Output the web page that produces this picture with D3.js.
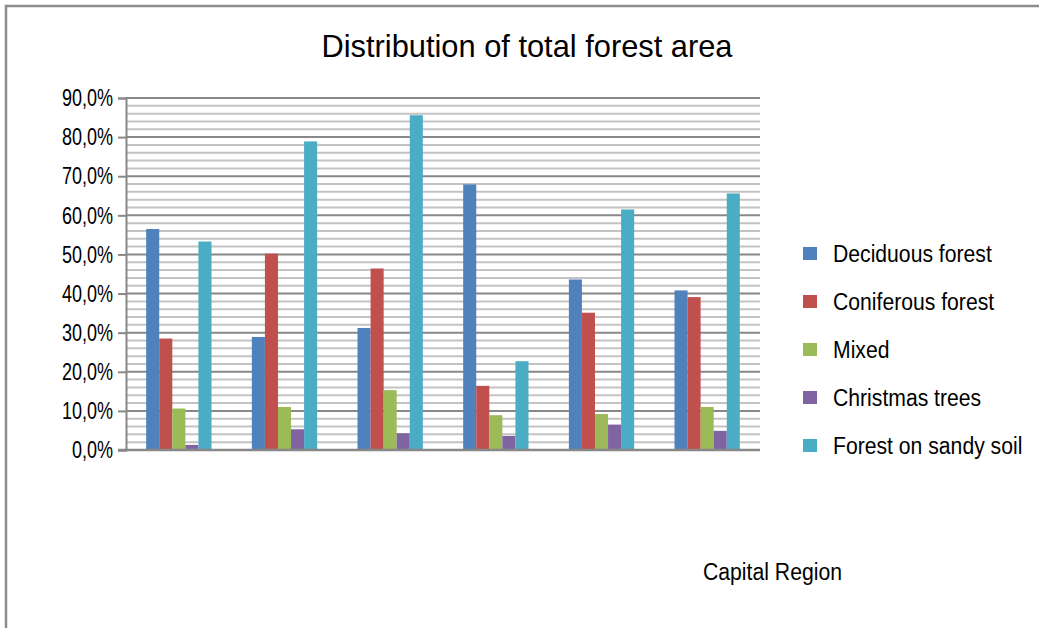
<!DOCTYPE html>
<html>
<head>
<meta charset="utf-8">
<script src="https://cdn.jsdelivr.net/npm/d3@7"></script>
<style>
  html, body { margin: 0; padding: 0; background: #fff; }
  svg { display: block; }
  text { font-family: "Liberation Sans", Arial, sans-serif; fill: #000; }
</style>
</head>
<body>
<svg id="chart" width="1039" height="628"></svg>
<script>
// Areas within the region (no labels shown on the category axis)
const categories = ["Area 1", "Area 2", "Area 3", "Area 4", "Area 5", "Area 6"];
const seriesNames = ["Deciduous forest", "Coniferous forest", "Mixed", "Christmas trees", "Forest on sandy soil"];
const seriesColors = ["#4f81bd", "#c0504d", "#9bbb59", "#8064a2", "#4bacc6"];

// Share of total forest area, in percent
const deciduous = [56.5, 28.9, 31.2, 67.9, 43.6, 40.8];
const coniferous = [28.5, 50.2, 46.4, 16.4, 35.1, 39.1];
const mixed = [10.6, 11.0, 15.3, 8.9, 9.2, 11.0];
const christmasTrees = [1.3, 5.3, 4.3, 3.6, 6.5, 4.9];
const sandySoil = [53.3, 78.9, 85.6, 22.7, 61.5, 65.6];

const tickValues = [0, 10, 20, 30, 40, 50, 60, 70, 80, 90];
const tickLabels = ["0,0%", "10,0%", "20,0%", "30,0%", "40,0%", "50,0%", "60,0%", "70,0%", "80,0%", "90,0%"];
const minorStep = 2;

const titleText = "Distribution of total forest area";
const axisTitle = "Capital Region";

const series = [deciduous, coniferous, mixed, christmasTrees, sandySoil];

const svg = d3.select("#chart");

// Condense text to a given width (the chart uses a narrow face)
function condense(sel, widthFn) {
  sel.each(function (d, i) {
    const t = d3.select(this);
    const w = this.getComputedTextLength();
    const target = widthFn(w, d, i);
    if (target < w) t.attr("textLength", target).attr("lengthAdjust", "spacingAndGlyphs");
  });
}

// Outer chart frame
svg.append("path")
  .attr("d", "M6,628 L6,6 L1039,6")
  .attr("fill", "none")
  .attr("stroke", "#8c8c8c")
  .attr("stroke-width", 2.5);

const plot = { left: 126, right: 760, top: 98, bottom: 450 };

const y = d3.scaleLinear().domain([0, 90]).range([plot.bottom, plot.top]);
const x0 = d3.scaleBand().domain(categories).range([plot.left, plot.right]).paddingInner(0.382).paddingOuter(0.191);
const x1 = d3.scaleBand().domain(d3.range(series.length)).range([0, x0.bandwidth()]);

// Minor gridlines every 2%
const minorVals = d3.range(0, 90 + 0.001, minorStep).filter(v => v % 10 !== 0);
svg.append("g").selectAll("line").data(minorVals).join("line")
  .attr("x1", plot.left).attr("x2", plot.right)
  .attr("y1", d => y(d)).attr("y2", d => y(d))
  .attr("stroke", "#c3c3c3").attr("stroke-width", 2);

// Major gridlines
svg.append("g").selectAll("line").data(tickValues.filter(v => v > 0)).join("line")
  .attr("x1", plot.left).attr("x2", plot.right)
  .attr("y1", d => y(d)).attr("y2", d => y(d))
  .attr("stroke", "#888888").attr("stroke-width", 2);

// Bars
const groups = svg.append("g").selectAll("g").data(categories).join("g")
  .attr("transform", c => `translate(${x0(c)},0)`);
groups.selectAll("rect")
  .data((c, ci) => series.map((s, si) => ({ si, v: s[ci] })))
  .join("rect")
  .attr("x", d => x1(d.si))
  .attr("width", x1.bandwidth())
  .attr("y", d => y(d.v))
  .attr("height", d => y(0) - y(d.v))
  .attr("fill", d => seriesColors[d.si]);

// Y axis
const yAxis = d3.axisLeft(y)
  .tickValues(tickValues)
  .tickFormat((d, i) => tickLabels[i])
  .tickSize(8)
  .tickPadding(5);
const ya = svg.append("g").attr("transform", `translate(${plot.left},0)`).call(yAxis);
ya.select(".domain").attr("stroke", "#888888").attr("stroke-width", 2);
ya.selectAll(".tick line").attr("stroke", "#888888").attr("stroke-width", 2);
ya.selectAll(".tick text")
  .style("font-family", "\"Liberation Sans\", Arial, sans-serif")
  .style("font-size", "24px").attr("fill", "#000");
condense(ya.selectAll(".tick text"), w => w * 0.75);

// Baseline
svg.append("line")
  .attr("x1", plot.left - 8).attr("x2", plot.right)
  .attr("y1", y(0)).attr("y2", y(0))
  .attr("stroke", "#888888").attr("stroke-width", 2.5);

// Title
const title = svg.append("text")
  .attr("x", 527).attr("y", 57)
  .attr("text-anchor", "middle")
  .style("font-size", "32px")
  .text(titleText);
condense(title, () => 411);

// Legend
const legend = svg.append("g").selectAll("g").data(seriesNames).join("g")
  .attr("transform", (d, i) => `translate(803,${247 + i * 48})`);
legend.append("rect").attr("width", 14).attr("height", 13).attr("fill", (d, i) => seriesColors[i]);
const legendText = legend.append("text").attr("x", 30).attr("y", 15).style("font-size", "23px").text(d => d);
condense(legendText, w => w * 0.92);

// Category axis title
const at = svg.append("text")
  .attr("x", 703).attr("y", 580)
  .style("font-size", "23px")
  .text(axisTitle);
condense(at, () => 139);
</script>
</body>
</html>
